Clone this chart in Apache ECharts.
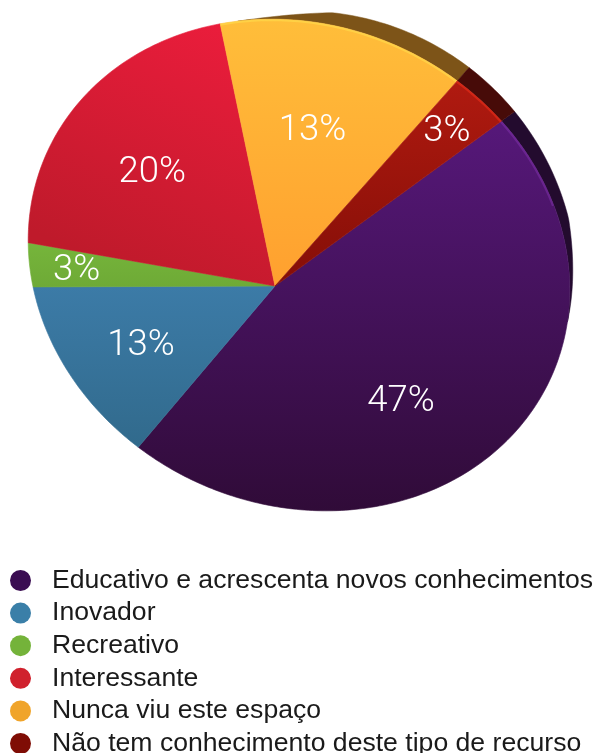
<!DOCTYPE html>
<html>
<head>
<meta charset="utf-8">
<style>html,body{margin:0;padding:0;background:#fff}#chart{width:596px;height:753px}</style>
<script src="https://cdn.jsdelivr.net/npm/echarts@6/dist/echarts.min.js"></script>
</head>
<body>
<div id="chart"></div>
<script>
// Survey answers, in drawing order (clockwise from the upper right)
const categories = [
  'Educativo e acrescenta novos conhecimentos',
  'Inovador',
  'Recreativo',
  'Interessante',
  'Nunca viu este espaço',
  'Não tem conhecimento deste tipo de recurso'
];
const percentages = [47, 13, 3, 20, 13, 3];
const legendColors = ['#3a0d52', '#3a7fa8', '#74b33a', '#d0212d', '#f0a42a', '#7f0d05'];

// Face shading per slice: [x2, y2 direction, first stop, last stop]
const faceShades = [
  [0, 1, '#56187a', '#300b38'],
  [0, 1, '#3c7ba7', '#316a8c'],
  [0, 1, '#76b53b', '#6eaa36'],
  [-0.5, 1, '#ee1d3d', '#bf1a2b'],
  [0, 1, '#ffbe3a', '#ffa02f'],
  [0, 1, '#b01a10', '#840e07']
];
const rimColors = ['#230b2e', null, null, null, '#7d5418', '#470b08'];
const edgeGlows = ['#7e2fa8', null, null, null, '#ffe04e', '#f0301a'];
const edgeGlowSpans = [0.12, 0, 0, 0, 1, 1];
const labelRadii = [170, 146, 199, 168, 162, 232];
const labelTurns = [-5, 1.5, 0, -1, -1.5, 0];

// The disc is seen in perspective: the hub sits off-centre in a tilted ellipse,
// and a slightly larger circle behind it shows as the thin back rim.
const hub = { x: 275, y: 286 };
const face = { cx: 299, cy: 265, a: 276, b: 240, tilt: 23 };
const back = { cx: 302, cy: 286, a: 275, b: 275, tilt: 0 };
const startBearing = 55;
const rimFrom = 352;
const rimTo = 97;
const rimTaper = 20;
const rad = Math.PI / 180;

// Foreshortening of the tilted disc shifts bearings by low-harmonic terms
function viewBearing(a) {
  return a - 5.4 - 4 * Math.cos(2 * (a - 350) * rad) + 1.8 * Math.cos((a - 65) * rad);
}

// Distance along a bearing from the hub to an outline
function reach(bearing, o) {
  const dx = Math.sin(bearing * rad), dy = -Math.cos(bearing * rad);
  const c = Math.cos(o.tilt * rad), s = Math.sin(o.tilt * rad);
  const px = hub.x - o.cx, py = hub.y - o.cy;
  const pu = px * c + py * s, pv = -px * s + py * c;
  const du = dx * c + dy * s, dv = -dx * s + dy * c;
  const A = du * du / (o.a * o.a) + dv * dv / (o.b * o.b);
  const B = 2 * (pu * du / (o.a * o.a) + pv * dv / (o.b * o.b));
  const C = pu * pu / (o.a * o.a) + pv * pv / (o.b * o.b) - 1;
  return (-B + Math.sqrt(B * B - 4 * A * C)) / (2 * A);
}

function at(bearing, r) {
  return [hub.x + r * Math.sin(bearing * rad), hub.y - r * Math.cos(bearing * rad)];
}

function arc(from, to, o, inset) {
  const pts = [];
  const n = Math.max(2, Math.ceil(Math.abs(to - from)));
  for (let i = 0; i <= n; i++) {
    const b = from + (to - from) * i / n;
    pts.push(at(b, reach(b, o) - (inset || 0)));
  }
  return pts;
}

// Outer edge of the rim, easing into the face near both of its ends
function rimEdge(from, to) {
  const pts = [];
  const n = Math.max(2, Math.ceil(Math.abs(to - from)));
  for (let i = 0; i <= n; i++) {
    const b = from + (to - from) * i / n;
    const inRange = (b % 360 + 360) % 360;
    const fromStart = (inRange - rimFrom + 360) % 360;
    const toEnd = (rimTo - inRange + 360) % 360;
    const ease = Math.min(1, fromStart / rimTaper, toEnd / rimTaper);
    const rFace = reach(b, face);
    pts.push(at(b, rFace + (reach(b, back) - rFace) * ease));
  }
  return pts;
}

const total = percentages.reduce((s, v) => s + v, 0);
const starts = [];
percentages.reduce((cum, v, i) => {
  starts[i] = cum;
  return cum + v;
}, 0);

function sliceSpan(i) {
  const a0 = startBearing + 360 * starts[i] / total;
  const a1 = a0 + 360 * percentages[i] / total;
  return [viewBearing(a0), viewBearing(a1)];
}

function renderSlice(i, api) {
  const [b0, b1] = sliceSpan(i);
  const value = api.value(0);
  const shade = faceShades[i];
  const children = [];

  if (rimColors[i]) {
    const from = i === 4 ? rimFrom : b0;
    const to = i === 0 ? rimTo : b1;
    const pts = rimEdge(from, to).concat(arc(to, from, face));
    children.push({
      type: 'polygon',
      shape: { points: pts },
      style: { fill: rimColors[i], stroke: rimColors[i], lineWidth: 0.5 }
    });
  }

  const x0 = shade[0] < 0 ? 1 : 0;
  const gradient = new echarts.graphic.LinearGradient(
    x0, 0, x0 + shade[0], shade[1],
    [{ offset: 0, color: shade[2] }, { offset: 1, color: shade[3] }]
  );
  children.push({
    type: 'polygon',
    shape: { points: [[hub.x, hub.y]].concat(arc(b0, b1, face)) },
    style: { fill: gradient, stroke: gradient, lineWidth: 0.6 }
  });

  if (edgeGlows[i]) {
    children.push({
      type: 'polyline',
      shape: { points: arc(b0, b0 + (b1 - b0) * edgeGlowSpans[i], face, 1) },
      style: { fill: 'none', stroke: edgeGlows[i], lineWidth: 2, opacity: 0.55 }
    });
  }

  const mid = (b0 + b1) / 2 + labelTurns[i];
  const spot = at(mid, labelRadii[i]);
  children.push({
    type: 'text',
    style: {
      text: value + '%',
      x: spot[0],
      y: spot[1] + 2,
      fill: '#ffffff',
      align: 'center',
      verticalAlign: 'middle',
      fontFamily: 'Roboto, "Liberation Sans", sans-serif',
      fontWeight: 300,
      fontSize: 36.5
    }
  });
  return { type: 'group', children };
}

const chart = echarts.init(document.getElementById('chart'), null, { renderer: 'canvas' });
chart.setOption({
  animation: false,
  backgroundColor: '#ffffff',
  legend: {
    orient: 'vertical',
    left: 5,
    top: 562,
    height: 191,
    icon: 'circle',
    itemWidth: 21,
    itemHeight: 21,
    itemGap: 5.6,
    selectedMode: false,
    data: categories,
    textStyle: {
      color: '#1a1a1a',
      fontFamily: '"Liberation Sans", Arial, sans-serif',
      fontSize: 26.6,
      lineHeight: 21,
      padding: [0, 0, 0, 16]
    }
  },
  series: categories.map((name, i) => ({
    type: 'custom',
    name,
    coordinateSystem: 'none',
    silent: true,
    itemStyle: { color: legendColors[i] },
    data: [[percentages[i]]],
    renderItem: (params, api) => renderSlice(i, api)
  }))
});
</script>
</body>
</html>
